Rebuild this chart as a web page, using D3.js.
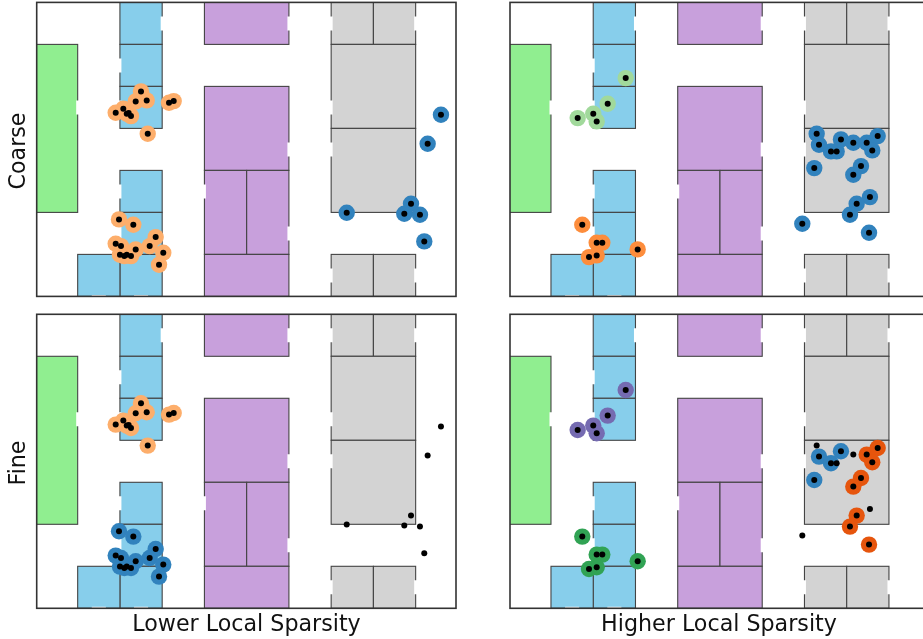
<!DOCTYPE html>
<html lang="en">
<head>
    <meta charset="UTF-8"/>
    <title>Local Sparsity</title>
    <script src="https://d3js.org/d3.v7.min.js"></script>
    <style>
        body { margin: 0; background: white; }
        svg { display: block; filter: blur(0.35px); }
        text { font-family: "DejaVu Sans"; font-size: 22.2px; fill: #111; }
        .wall { stroke: #444; stroke-width: 1.1; }
        .door { stroke: white; stroke-width: 3; }
        .spine { fill: none; stroke: #333; stroke-width: 1.6; }
    </style>
</head>
<body>
    <div id="chart"></div>
    <script>
        // floor plan, in plan units (10 wide, 7 high)
        var greenRooms = [[0, 2, 1, 6]];
        var blueRooms = [[2, 6, 3, 7], [2, 5, 3, 6], [2, 4, 3, 5], [2, 2, 3, 3], [2, 1, 3, 2], [2, 0, 3, 1], [1, 0, 2, 1]];
        var purpleRooms = [[4, 6, 6, 7], [4, 3, 6, 5], [4, 1, 5, 3], [5, 1, 6, 3], [4, 0, 6, 1]];
        var grayRooms = [[7, 6, 8, 7], [8, 6, 9, 7], [7, 4, 9, 6], [7, 2, 9, 4], [7, 0, 8, 1], [8, 0, 9, 1]];
        var verticalDoors = [[3, 6.5], [2, 5.5], [1, 4.5], [2, 4.5], [2, 2.5], [4, 2.5], [2, 1.5], [6, 6.5], [7, 6.5], [9, 6.5],
            [7, 4.5], [6, 3.5], [7, 3.5], [6, 1.5], [7, 0.5], [9, 0.5]];
        var bottomDoors = [1.5, 2.5];

        // left column points
        var lowerX = [2.499, 2.634, 2.373, 2.08, 1.9, 2.161, 2.207, 2.262, 3.162, 3.273, 2.658,
            1.978, 2.317, 2.846, 1.9, 2.025, 2.373, 2.704, 3.026, 2.001, 2.104, 2.161, 2.262, 2.925,
            9.599, 9.284, 8.89, 8.731, 9.102, 7.368, 9.204];
        var lowerY = [4.881, 4.667, 4.643, 4.469, 4.374, 4.35, 4.364, 4.293, 4.612, 4.65, 3.874,
            1.833, 1.707, 1.412, 1.255, 1.198, 1.119, 1.198, 1.04, 0.993, 0.96, 0.993, 0.96, 0.755,
            4.326, 3.636, 2.207, 1.969, 1.945, 1.993, 1.31];
        var lowerCoarse = ["o", "o", "o", "o", "o", "o", "o", "o", "o", "o", "o",
            "o", "o", "o", "o", "o", "o", "o", "o", "o", "o", "o", "o", "o",
            "b", "b", "b", "b", "b", "b", "b"];
        var lowerFine = ["o", "o", "o", "o", "o", "o", "o", "o", "o", "o", "o",
            "b", "b", "b", "b", "b", "b", "b", "b", "b", "b", "b", "b", "b",
            "n", "n", "n", "n", "n", "n", "n"];

        // right column points
        var higherX = [2.769, 2.342, 2.001, 2.082, 1.632,
            1.741, 2.082, 2.215, 2.082, 1.9, 3.052,
            7.289, 7.344, 7.628, 7.762, 7.864, 8.156, 8.473, 8.733, 8.605, 7.232, 8.338, 8.156, 8.55, 8.236, 8.077, 6.949, 8.528];
        var higherY = [5.198, 4.588, 4.35, 4.167, 4.245,
            1.707, 1.279, 1.279, 0.976, 0.936, 1.119,
            3.874, 3.612, 3.452, 3.452, 3.738, 3.659, 3.659, 3.817, 3.476, 3.055, 3.102, 2.898, 2.364, 2.207, 1.945, 1.731, 1.517];
        var higherCoarse = ["lg", "lg", "lg", "lg", "lg",
            "do", "do", "do", "do", "do", "do",
            "b", "b", "b", "b", "b", "b", "b", "b", "b", "b", "b", "b", "b", "b", "b", "b", "b"];
        var higherFine = ["p", "p", "p", "p", "p",
            "g", "g", "g", "g", "g", "g",
            "n", "b", "b", "n", "b", "n", "r", "r", "r", "b", "r", "r", "n", "r", "r", "n", "r"];

        var clusterKeys = ["o", "b", "lg", "do", "p", "g", "r"];
        var clusterColors = ["#fdae6b", "#3182bd", "#a1d99b", "#fd8d3c", "#756bb1", "#31a354", "#e6550d"];

        var w = 923;
        var h = 639;
        var panelW = 419.3;
        var panelH = 294;

        // the axes cut a sliver off the plan on the left and right
        var xScale = d3.scaleLinear().domain([0.03, 9.955]).range([0, panelW]);
        var yScale = d3.scaleLinear().domain([0, 7]).range([panelH, 0]);
        var color = d3.scaleOrdinal().domain(clusterKeys).range(clusterColors);

        var svg = d3.select("#chart")
                .append("svg")
                .attr("width", w)
                .attr("height", h);

        svg.append("clipPath")
            .attr("id", "panelClip")
            .append("rect")
            .attr("width", panelW)
            .attr("height", panelH);

        function drawRooms(g, rooms, fill) {
            g.selectAll(null)
                .data(rooms)
                .enter()
                .append("rect")
                .attr("class", "wall")
                .attr("x", d=>xScale(d[0]))
                .attr("y", d=>yScale(d[3]))
                .attr("width", d=>xScale(d[2])-xScale(d[0]))
                .attr("height", d=>yScale(d[1])-yScale(d[3]))
                .attr("fill", fill);
        }

        function panel(left, top, xs, ys, labels) {
            let g = svg.append("g")
                    .attr("transform", `translate(${left}, ${top})`);
            let plan = g.append("g")
                    .attr("clip-path", "url(#panelClip)");
            drawRooms(plan, greenRooms, "#90ee90");
            drawRooms(plan, blueRooms, "#87ceeb");
            drawRooms(plan, purpleRooms, "#c8a0dc");
            drawRooms(plan, grayRooms, "#d3d3d3");

            plan.selectAll(null)
                .data(verticalDoors)
                .enter()
                .append("line")
                .attr("class", "door")
                .attr("x1", d=>xScale(d[0]))
                .attr("x2", d=>xScale(d[0]))
                .attr("y1", d=>yScale(d[1]+1/6))
                .attr("y2", d=>yScale(d[1]-1/6));
            plan.selectAll(null)
                .data(bottomDoors)
                .enter()
                .append("line")
                .attr("class", "door")
                .attr("x1", d=>xScale(d-1/6))
                .attr("x2", d=>xScale(d+1/6))
                .attr("y1", yScale(0))
                .attr("y2", yScale(0));

            let points = xs.map((x, i)=>({x: x, y: ys[i], label: labels[i]}));
            g.selectAll(null)
                .data(points.filter(d=>d.label != "n"))
                .enter()
                .append("circle")
                .attr("cx", d=>xScale(d.x))
                .attr("cy", d=>yScale(d.y))
                .attr("r", 8.2)
                .attr("fill", d=>color(d.label));
            g.selectAll(null)
                .data(points)
                .enter()
                .append("circle")
                .attr("cx", d=>xScale(d.x))
                .attr("cy", d=>yScale(d.y))
                .attr("r", 3)
                .attr("fill", "black");

            g.append("rect")
                .attr("class", "spine")
                .attr("width", panelW)
                .attr("height", panelH);
        }

        panel(36.7, 2.4, lowerX, lowerY, lowerCoarse);
        panel(510, 2.4, higherX, higherY, higherCoarse);
        panel(36.7, 314.3, lowerX, lowerY, lowerFine);
        panel(510, 314.3, higherX, higherY, higherFine);

        svg.append("text").attr("x", 246.5).attr("y", 630.7).attr("text-anchor", "middle").text("Lower Local Sparsity");
        svg.append("text").attr("x", 719).attr("y", 630.7).attr("text-anchor", "middle").text("Higher Local Sparsity");
        svg.append("text").attr("transform", "translate(24.5, 151) rotate(-90)").attr("text-anchor", "middle").text("Coarse");
        svg.append("text").attr("transform", "translate(24.5, 463) rotate(-90)").attr("text-anchor", "middle").text("Fine");
    </script>
</body>
</html>
